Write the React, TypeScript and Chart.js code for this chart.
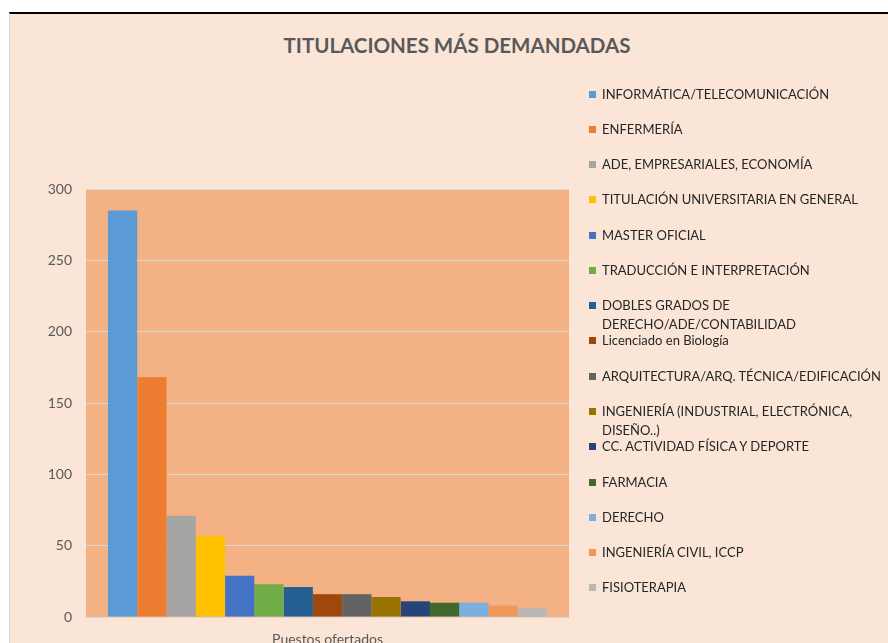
import React, { useEffect, useRef } from "react";
import { Chart, registerables } from "chart.js";

Chart.register(...registerables);

const categories = ["Puestos ofertados"];
const seriesNames = [
  "INFORMÁTICA/TELECOMUNICACIÓN",
  "ENFERMERÍA",
  "ADE, EMPRESARIALES, ECONOMÍA",
  "TITULACIÓN UNIVERSITARIA EN GENERAL",
  "MASTER OFICIAL",
  "TRADUCCIÓN E INTERPRETACIÓN",
  "DOBLES GRADOS DE\nDERECHO/ADE/CONTABILIDAD",
  "Licenciado en Biología",
  "ARQUITECTURA/ARQ. TÉCNICA/EDIFICACIÓN",
  "INGENIERÍA (INDUSTRIAL, ELECTRÓNICA,\nDISEÑO..)",
  "CC. ACTIVIDAD FÍSICA Y DEPORTE",
  "FARMACIA",
  "DERECHO",
  "INGENIERÍA CIVIL, ICCP",
  "FISIOTERAPIA",
];
const seriesValues = [285, 168, 71, 57, 29, 23, 21, 16, 16, 14, 11, 10, 10, 8, 6];
const seriesColors = [
  "#5B9BD5", "#ED7D31", "#A5A5A5", "#FFC000", "#4472C4",
  "#70AD47", "#255E91", "#9E480E", "#636363", "#997300",
  "#264478", "#43682B", "#7CAFDD", "#F1975A", "#B7B7B7",
];
const yTicks = [0, 50, 100, 150, 200, 250, 300];
const titleText = "TITULACIONES MÁS DEMANDADAS";

const FONT = "Lato, 'Open Sans', sans-serif";

export default function App() {
  const ref = useRef<HTMLCanvasElement | null>(null);

  useEffect(() => {
    if (!ref.current) return;
    const bgPlugin = {
      id: "plotBg",
      beforeDraw(chart: any) {
        const { ctx, chartArea } = chart;
        ctx.save();
        ctx.fillStyle = "#F4B183";
        ctx.fillRect(chartArea.left, chartArea.top, chartArea.right - chartArea.left, chartArea.bottom - chartArea.top);
        ctx.restore();
      },
    };
    const chart = new Chart(ref.current, {
      type: "bar",
      data: {
        labels: categories,
        datasets: seriesNames.map((name, i) => ({
          label: name,
          data: [seriesValues[i]],
          backgroundColor: seriesColors[i],
          borderWidth: 0,
          categoryPercentage: 15 / 16.5,
          barPercentage: 1,
        })),
      },
      options: {
        animation: false,
        responsive: false,
        maintainAspectRatio: false,
        layout: { padding: { left: 0, right: 319, top: 175, bottom: 0 } },
        plugins: {
          legend: { display: false },
          tooltip: { enabled: false },
          title: { display: false },
        },
        scales: {
          x: {
            type: "category",
            grid: { display: false, drawTicks: false },
            border: { display: false },
            ticks: {
              color: "#595959",
              font: { family: FONT, size: 14 },
              padding: 14,
            },
            afterFit(scale: any) {
              scale.height = 26;
            },
          },
          y: {
            min: 0,
            max: 300,
            afterBuildTicks(scale: any) {
              scale.ticks = yTicks.map((v) => ({ value: v }));
            },
            grid: { color: "#D9D9D9", lineWidth: 1, drawTicks: false },
            border: { display: false },
            ticks: {
              color: "#595959",
              font: { family: FONT, size: 14 },
              padding: 14,
            },
            afterFit(scale: any) {
              scale.width = 76;
            },
          },
        },
      },
      plugins: [bgPlugin],
    } as any);
    return () => chart.destroy();
  }, []);

  return (
    <div
      style={{
        position: "absolute",
        left: 9,
        top: 12,
        width: 879,
        height: 631,
        boxSizing: "border-box",
        borderTop: "2px solid #000",
        borderLeft: "1px solid #D9D9D9",
        background: "#FBE5D6",
        overflow: "hidden",
      }}
    >
      <div
        style={{
          position: "absolute",
          left: 447 - 300,
          top: 31 - 14,
          width: 600,
          height: 28,
          lineHeight: "28px",
          textAlign: "center",
          fontFamily: FONT,
          fontSize: 20.5,
          fontWeight: "bold",
          color: "#595959",
          whiteSpace: "nowrap",
        }}
      >
        {titleText}
      </div>
      <canvas ref={ref} width={878} height={629} style={{ position: "absolute", left: 0, top: 0, width: 878, height: 629 }} />
      <div style={{ position: "absolute", left: 579, top: 70.5, width: 300 }}>
        {seriesNames.map((name, i) => (
          <div key={i} style={{ position: "relative", height: 35.29, fontFamily: FONT, fontSize: 13, lineHeight: "19px", color: "#262626", whiteSpace: "pre" }}>
            <span style={{ position: "absolute", left: 0, top: 6, width: 7, height: 7, background: seriesColors[i] }} />
            <span style={{ position: "absolute", left: 13, top: 0 }}>{name}</span>
          </div>
        ))}
      </div>
    </div>
  );
}
